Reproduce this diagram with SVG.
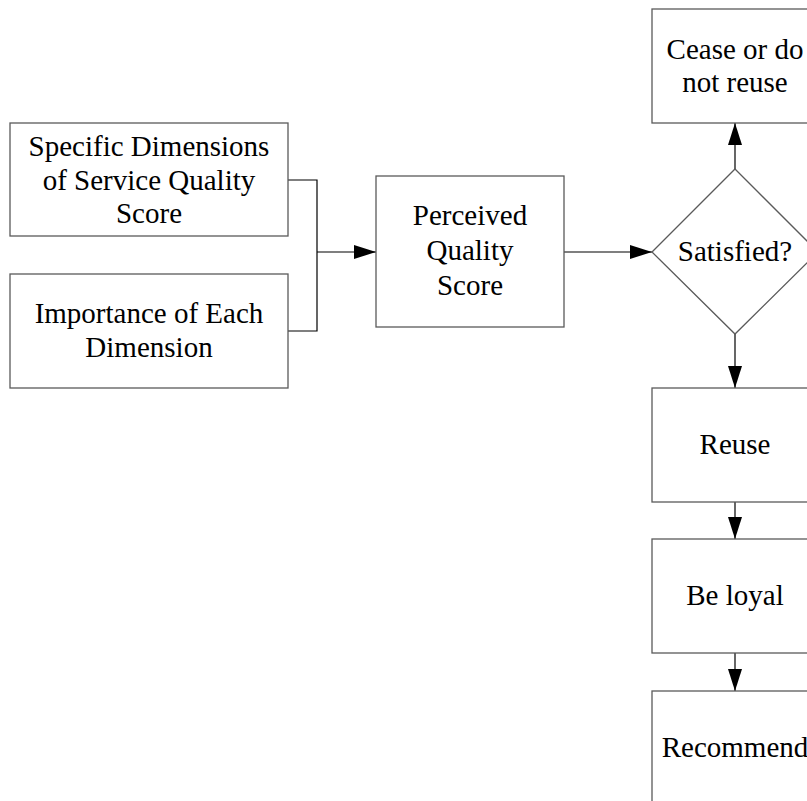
<svg xmlns="http://www.w3.org/2000/svg" width="807" height="801" viewBox="0 0 807 801">
  <style>
    .box { fill: #ffffff; stroke: #5a5a5a; stroke-width: 1.3; }
    .lbl { font-family: "Liberation Serif", "Times New Roman", serif; font-size: 29px; fill: #000000; text-anchor: middle; }
    .conn { fill: none; stroke: #000000; stroke-width: 1.2; }
  </style>
  <defs>
    <marker id="arrow" markerUnits="userSpaceOnUse" markerWidth="22" markerHeight="14" refX="22" refY="7" orient="auto">
      <path d="M0,0 L22,7 L0,14 Z" fill="#000000"/>
    </marker>
  </defs>
  <rect width="807" height="801" fill="#ffffff"/>

  <g id="connectors">
    <!-- two inputs merge into one arrow -->
    <path class="conn" d="M288,180 H317 V331 H288"/>
    <path class="conn" d="M317,252 H376" marker-end="url(#arrow)"/>
    <path class="conn" d="M564,252 H652" marker-end="url(#arrow)"/>
    <path class="conn" d="M735,169 V123" marker-end="url(#arrow)"/>
    <path class="conn" d="M735,334 V388" marker-end="url(#arrow)"/>
    <path class="conn" d="M735,502 V539" marker-end="url(#arrow)"/>
    <path class="conn" d="M735,653 V691" marker-end="url(#arrow)"/>
  </g>

  <g id="dimensions">
    <rect class="box" x="10" y="123" width="278" height="113"/>
    <text class="lbl" x="149" y="156">Specific Dimensions</text>
    <text class="lbl" x="149" y="190">of Service Quality</text>
    <text class="lbl" x="149" y="223">Score</text>
  </g>

  <g id="importance">
    <rect class="box" x="10" y="274" width="278" height="114"/>
    <text class="lbl" x="149" y="323">Importance of Each</text>
    <text class="lbl" x="149" y="357">Dimension</text>
  </g>

  <g id="perceived">
    <rect class="box" x="376" y="176" width="188" height="151"/>
    <text class="lbl" x="470" y="225">Perceived</text>
    <text class="lbl" x="470" y="260">Quality</text>
    <text class="lbl" x="470" y="295">Score</text>
  </g>

  <g id="satisfied">
    <polygon class="box" points="735,169 818,252 735,334 652,252"/>
    <text class="lbl" x="735" y="261">Satisfied?</text>
  </g>

  <g id="cease">
    <rect class="box" x="652" y="9" width="166" height="114"/>
    <text class="lbl" x="735" y="59">Cease or do</text>
    <text class="lbl" x="735" y="92">not reuse</text>
  </g>

  <g id="reuse">
    <rect class="box" x="652" y="388" width="166" height="114"/>
    <text class="lbl" x="735" y="454">Reuse</text>
  </g>

  <g id="loyal">
    <rect class="box" x="652" y="539" width="166" height="114"/>
    <text class="lbl" x="735" y="605">Be loyal</text>
  </g>

  <g id="recommend">
    <rect class="box" x="652" y="691" width="166" height="114"/>
    <text class="lbl" x="735" y="757">Recommend</text>
  </g>
</svg>
